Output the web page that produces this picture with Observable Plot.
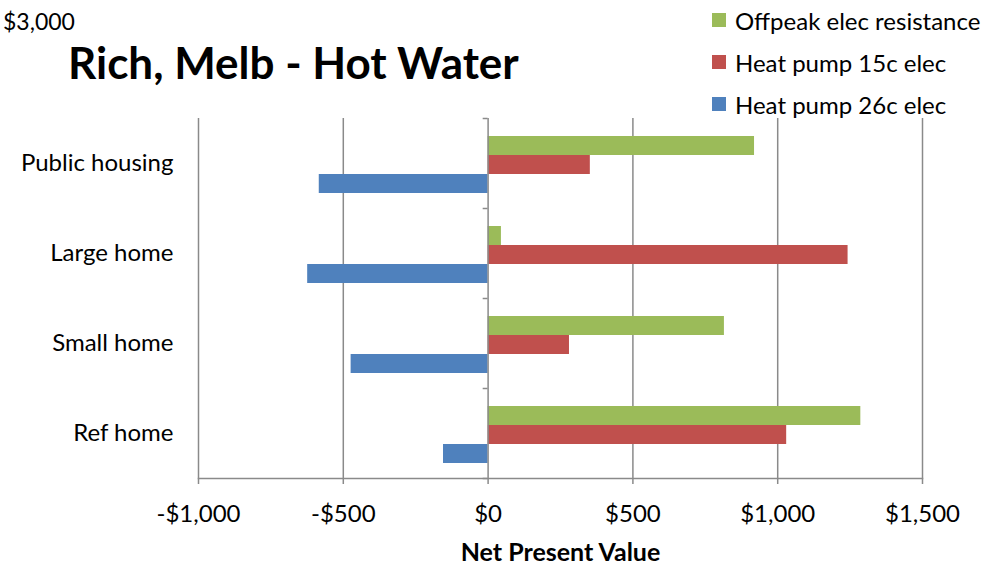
<!DOCTYPE html>
<html>
<head>
<meta charset="utf-8">
<script src="https://cdn.jsdelivr.net/npm/d3@7"></script>
<script src="https://cdn.jsdelivr.net/npm/@observablehq/plot@0.6"></script>
<style>
  html, body { margin: 0; padding: 0; background: #fff; }
  #wrap { position: relative; width: 997px; height: 564px; font-family: Lato, "Open Sans", sans-serif; color: #000; }
  #wrap svg { position: absolute; left: 0; top: 0; }
  .corner { position: absolute; left: 3px; top: 7px; font-size: 23px; }
  .title { position: absolute; left: 68px; top: 36px; font-size: 44px; font-weight: bold; white-space: nowrap; }
  .legend { position: absolute; left: 712px; top: -1px; font-size: 24px; }
  .legend .row { display: flex; align-items: center; height: 42px; white-space: nowrap; }
  .legend .sw { width: 14px; height: 14px; margin-right: 9px; display: inline-block; }
</style>
</head>
<body>
<div id="wrap"></div>
<script>
const categories = ["Public housing", "Large home", "Small home", "Ref home"];
const seriesNames = ["Offpeak elec resistance", "Heat pump 15c elec", "Heat pump 26c elec"];
const seriesColors = ["#9BBB59", "#C0504D", "#4F81BD"];
const offpeakResistance = [920, 46, 816, 1287];
const heatPump15c = [353, 1243, 281, 1031];
const heatPump26c = [-583, -623, -473, -154];
const xTicks = [-1000, -500, 0, 500, 1000, 1500];
const cornerLabel = "$3,000";
const chartTitle = "Rich, Melb - Hot Water";
const xAxisTitle = "Net Present Value";

const seriesValues = [offpeakResistance, heatPump15c, heatPump26c];
const rows = seriesValues.map((vals, s) => categories.map((c, i) => ({category: c, series: seriesNames[s], value: vals[i]})));

const fmt = v => (v < 0 ? "-" : "") + "$" + d3.format(",")(Math.abs(v));
const gray = "#8a8a8a";

// bar placement inside each category band (pixels)
const insets = [[18, 53], [37, 34], [56, 15]];

const chart = Plot.plot({
  width: 997,
  height: 564,
  marginTop: 118,
  marginBottom: 86,
  marginLeft: 198,
  marginRight: 75,
  style: {fontFamily: "Lato, 'Open Sans', sans-serif", fontSize: "24px", color: "#000", background: "#fff"},
  x: {domain: [-1000, 1500]},
  y: {domain: categories, padding: 0},
  marks: [
    Plot.ruleX(xTicks.filter(v => v !== 0), {stroke: gray, strokeWidth: 1.5}),
    ...rows.map((data, s) => Plot.barX(data, {
      x1: 0, x2: "value", y: "category",
      fill: seriesColors[s],
      insetTop: insets[s][0], insetBottom: insets[s][1]
    })),
    Plot.ruleX([0], {stroke: gray, strokeWidth: 1.5}),
    Plot.ruleY(categories, {y: d => d, x1: -17, x2: 0, dy: -45, stroke: gray, strokeWidth: 1.5}),
    Plot.ruleY(categories.slice(-1), {y: d => d, x1: -17, x2: 0, dy: 45, stroke: gray, strokeWidth: 1.5}),
    Plot.frame({anchor: "bottom", stroke: gray, strokeWidth: 1.5}),
    Plot.axisX({ticks: xTicks, tickFormat: fmt, tickSize: 6, tickPadding: 20, stroke: gray, strokeWidth: 1.5, label: null, fontSize: 24}),
    Plot.axisY({tickSize: 0, tickPadding: 25, label: null, fontSize: 24}),
    Plot.text([xAxisTitle], {frameAnchor: "bottom", dy: 82, fontWeight: "bold", fontSize: 25})
  ]
});

const wrap = document.getElementById("wrap");
wrap.appendChild(chart);

const corner = document.createElement("div");
corner.className = "corner"; corner.textContent = cornerLabel; wrap.appendChild(corner);
const title = document.createElement("div");
title.className = "title"; title.textContent = chartTitle; wrap.appendChild(title);
const legend = document.createElement("div");
legend.className = "legend";
seriesNames.forEach((n, i) => {
  const r = document.createElement("div"); r.className = "row";
  const sw = document.createElement("span"); sw.className = "sw"; sw.style.background = seriesColors[i];
  r.appendChild(sw); r.appendChild(document.createTextNode(n));
  legend.appendChild(r);
});
wrap.appendChild(legend);
</script>
</body>
</html>
